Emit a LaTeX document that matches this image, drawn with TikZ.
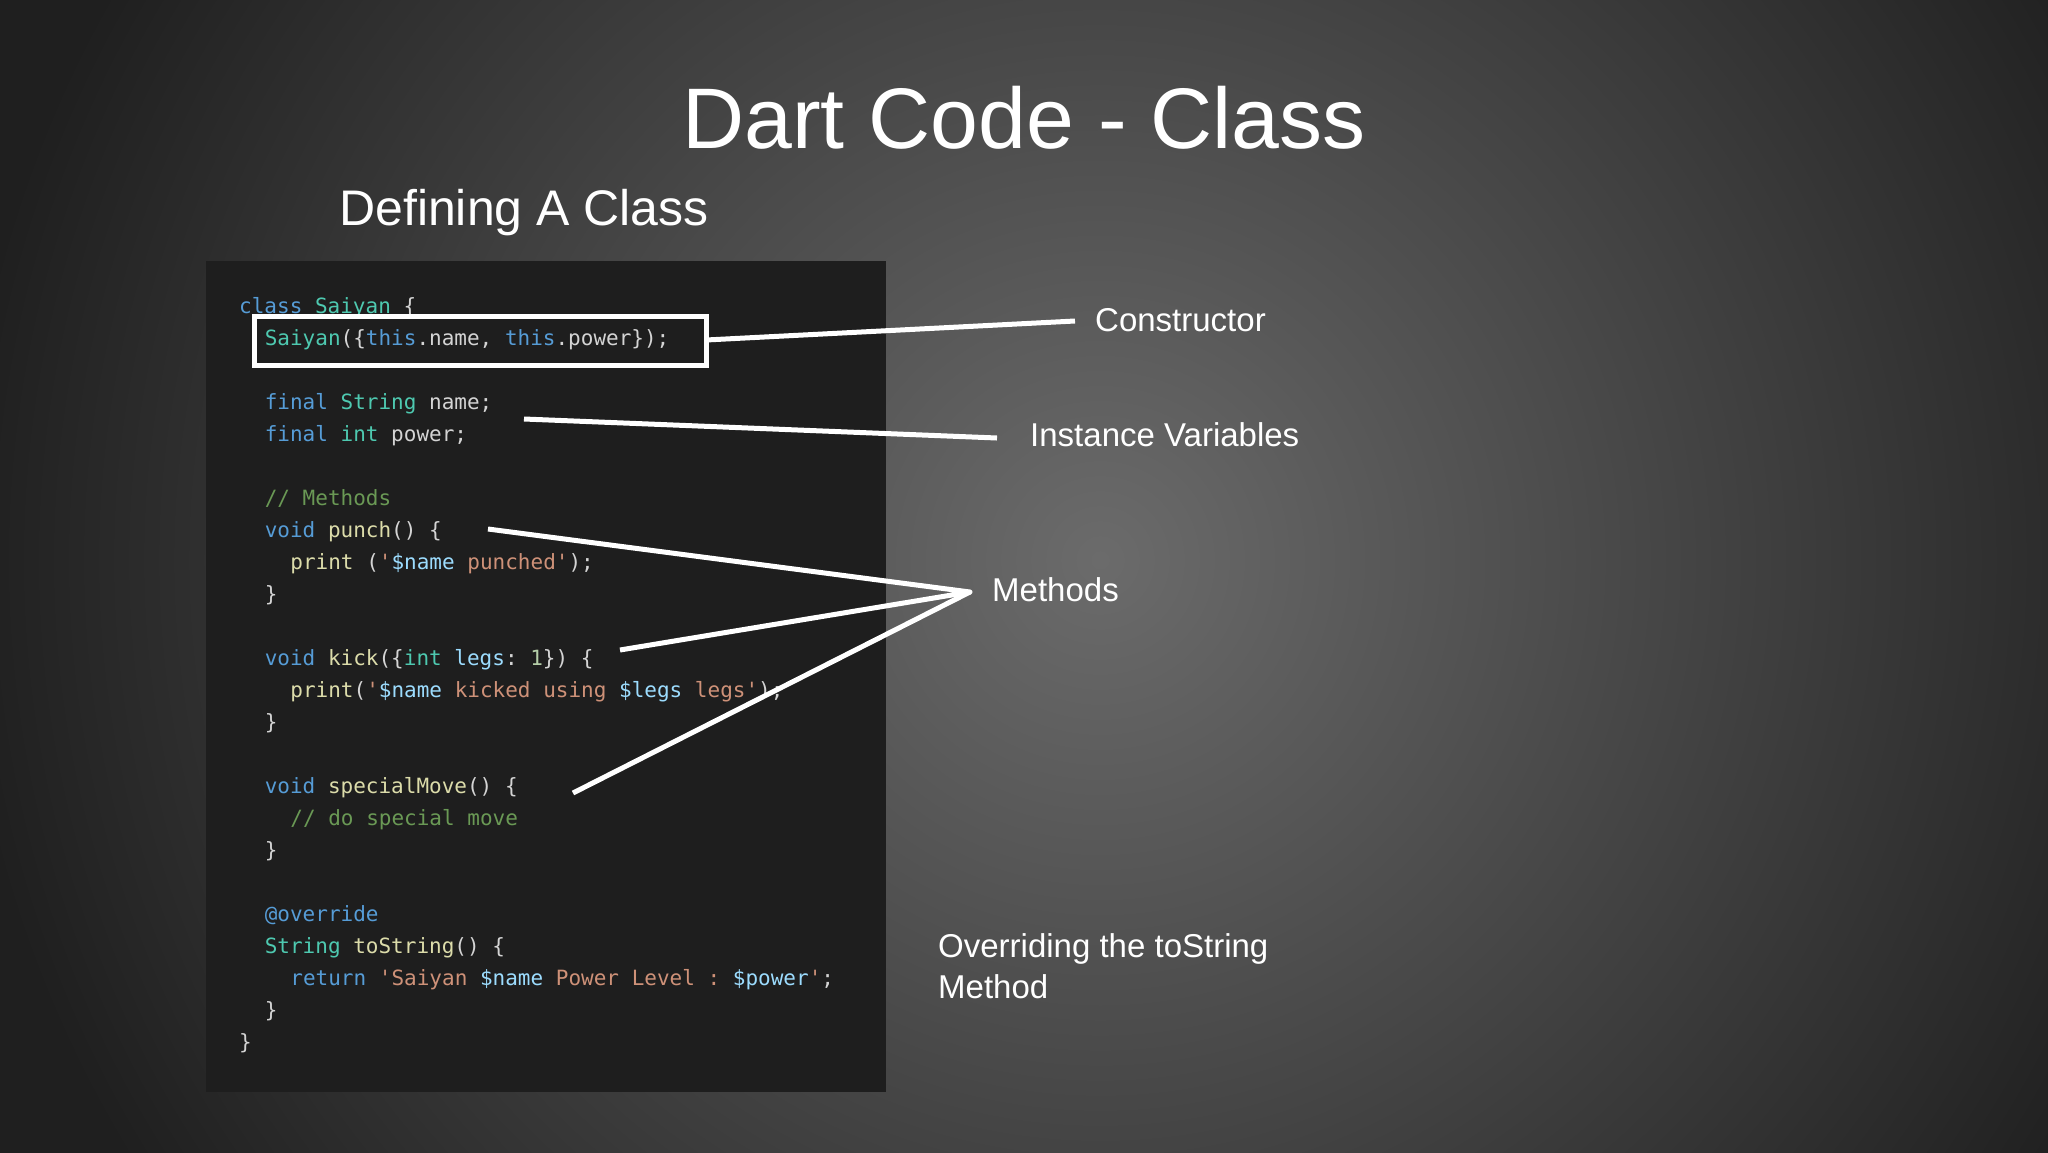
\documentclass[tikz,border=0pt]{standalone}
\usepackage{fontspec}
\setmainfont{Liberation Sans}
\setmonofont{DejaVu Sans Mono}
\definecolor{kw}{HTML}{569CD6}
\definecolor{ty}{HTML}{4EC9B0}
\definecolor{fn}{HTML}{DCDCAA}
\definecolor{st}{HTML}{CE9178}
\definecolor{cm}{HTML}{6A9955}
\definecolor{vr}{HTML}{9CDCFE}
\definecolor{tx}{HTML}{D4D4D4}
\definecolor{nm}{HTML}{B5CEA8}
\definecolor{panel}{HTML}{1E1E1E}
\newcommand\K[1]{\textcolor{kw}{#1}}
\newcommand\T[1]{\textcolor{ty}{#1}}
\newcommand\F[1]{\textcolor{fn}{#1}}
\newcommand\St[1]{\textcolor{st}{#1}}
\newcommand\C[1]{\textcolor{cm}{#1}}
\newcommand\V[1]{\textcolor{vr}{#1}}
\newcommand\N[1]{\textcolor{nm}{#1}}
\tikzset{
  code/.style={anchor=base west, inner sep=0pt, font=\fontsize{21}{25}\ttfamily, text=tx},
  lbl/.style={anchor=west, inner sep=0pt, font=\fontsize{33}{41}\selectfont, text=white, align=left},
  conn/.style={white, line width=5pt}
}
\begin{document}
\begin{tikzpicture}[x=1pt,y=-1pt]
\useasboundingbox (0,0) rectangle (2048,1152);
\clip (0,0) rectangle (2048,1152);
\fill[black!88] (-10,-10) rectangle (2058,1162);
\shade[inner color=black!58, outer color=black!88] (1100,560) circle (1150);
\fill[panel] (206,261) rectangle (886,1092);
\node[anchor=center, font=\fontsize{86}{96}\selectfont, text=white] (title) at (1024,118) {Dart Code - Class};
\node[anchor=west, inner sep=0pt, font=\fontsize{50}{60}\selectfont, text=white] (sub) at (339,213) {Defining A Class};
% code lines
\def\lx#1{239+#1*12.8}
\node[code] (l1) at (\lx{0},313) {\K{class} \T{Saiyan} \{};
\node[code] (l2) at (\lx{2},345) {\T{Saiyan}(\{\K{this}.name, \K{this}.power\});};
\node[code] (l4) at (\lx{2},409) {\K{final} \T{String} name;};
\node[code] (l5) at (\lx{2},441) {\K{final} \T{int} power;};
\node[code] (l7) at (\lx{2},505) {\C{// Methods}};
\node[code] (l8) at (\lx{2},537) {\K{void} \F{punch}() \{};
\node[code] (l9) at (\lx{4},569) {\F{print} (\St{'}\V{\$name} \St{punched'});};
\node[code] (l10) at (\lx{2},601) {\}};
\node[code] (l12) at (\lx{2},665) {\K{void} \F{kick}(\{\T{int} \V{legs}: \N{1}\}) \{};
\node[code] (l13) at (\lx{4},697) {\F{print}(\St{'}\V{\$name} \St{kicked using} \V{\$legs} \St{legs'});};
\node[code] (l14) at (\lx{2},729) {\}};
\node[code] (l16) at (\lx{2},793) {\K{void} \F{specialMove}() \{};
\node[code] (l17) at (\lx{4},825) {\C{// do special move}};
\node[code] (l18) at (\lx{2},857) {\}};
\node[code] (l20) at (\lx{2},921) {\K{@override}};
\node[code] (l21) at (\lx{2},953) {\T{String} \F{toString}() \{};
\node[code] (l22) at (\lx{4},985) {\K{return} \St{'Saiyan} \V{\$name} \St{Power Level :} \V{\$power}\St{'};};
\node[code] (l23) at (\lx{2},1017) {\}};
\node[code] (l25) at (\lx{0},1049) {\}};
% constructor box
\draw[white, line width=5pt] (254,316) rectangle (706,365);
\coordinate (boxe) at (706,340);
% labels
\node[lbl] (ctor) at (1095,320) {Constructor};
\node[lbl] (inst) at (1030,435) {Instance Variables};
\node[lbl] (meth) at (992,590) {Methods};
\node[lbl] (ovr) at (938,966) {Overriding the toString\\Method};
% connectors
\coordinate (c1) at (1075,321);
\draw[conn] (boxe) -- (c1);
\coordinate (i0) at (524,419);
\coordinate (i1) at (997,438);
\draw[conn] (i0) -- (i1);
\coordinate (apex) at (970,592);
\coordinate (m1) at (488,529);
\coordinate (m2) at (620,650);
\coordinate (m3) at (573,793);
\draw[conn, line join=round] (m1) -- (apex) -- (m2);
\draw[conn] (apex) -- (m3);
\end{tikzpicture}
\end{document}
